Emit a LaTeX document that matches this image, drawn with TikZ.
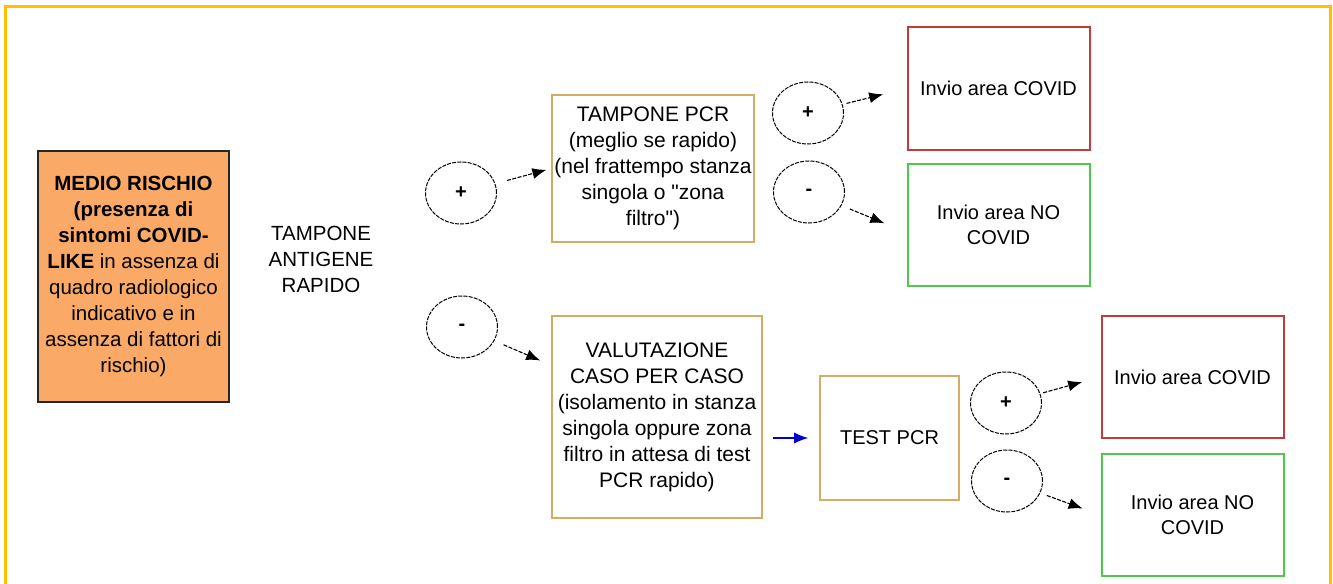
\documentclass[tikz,border=0pt]{standalone}
\usepackage{fontspec}
\setmainfont{Liberation Sans}
\usetikzlibrary{calc, arrows.meta, positioning, shapes.geometric}
\definecolor{framecol}{RGB}{255,192,0}
\definecolor{riskfill}{RGB}{250,170,102}
\definecolor{boxcol}{RGB}{212,172,100}
\definecolor{covcol}{RGB}{190,60,60}
\definecolor{nocovcol}{RGB}{80,200,80}
\definecolor{testarrow}{RGB}{0,0,204}
\tikzstyle{risk}=[draw=black!85, fill=riskfill, line width=1.3bp, align=center,
minimum width=191bp, minimum height=251bp, inner xsep=1bp,
font=\fontsize{20.5bp}{26bp}\selectfont]
\tikzstyle{box}=[draw=boxcol, line width=1.6bp, align=center, inner xsep=1bp,
font=\fontsize{21bp}{26bp}\selectfont]
\tikzstyle{dest}=[line width=2bp, align=center, minimum width=182bp,
minimum height=122bp, font=\fontsize{20bp}{25bp}\selectfont]
\tikzstyle{res}=[draw, ellipse, dash pattern=on 4bp off 1.2bp, line width=1bp, inner sep=0pt,
minimum width=71bp, minimum height=62bp, font=\fontsize{20bp}{24bp}\bfseries]
\tikzstyle{arr}=[->, dash pattern=on 4bp off 1.5bp, line width=1.1bp]

\begin{document}
\begin{tikzpicture}[x=1bp,y=-1bp,>={Latex[length=14bp,width=11bp]}]
  \useasboundingbox (0,0) rectangle (1333,584);
  \draw[framecol, line width=3bp] (5.5,600) -- (5.5,6.5) -- (1330,6.5) -- (1330,600);
  % start
  \node [risk] (risk) at (133.5,276.5) {\textbf{MEDIO RISCHIO}\\\textbf{(presenza di}\\
    \textbf{sintomi COVID-}\\\textbf{LIKE} in assenza di\\quadro radiologico\\
    indicativo e in\\assenza di fattori di\\rischio)};
  \node [align=center, font=\fontsize{20.5bp}{26bp}\selectfont] (ag) at (321,259)
    {TAMPONE\\ANTIGENE\\RAPIDO};
  % antigen positive
  \node [res] (p1) at (461,193) {+};
  \node [box, minimum width=202bp, minimum height=147bp] (pcr) at (653,168.5)
    {TAMPONE PCR\\(meglio se rapido)\\(nel frattempo stanza\\
    singola o \textquotedbl zona\\filtro\textquotedbl)};
  \node [res] (pt) at (808,113) {+};
  \node [res] (mt) at (809,192) {-};
  \node [dest, draw=covcol] (cov1) at (998.5,88.5) {Invio area COVID};
  \node [dest, draw=nocovcol] (ncov1) [below=12bp of cov1] {Invio area NO\\COVID};
  % antigen negative
  \node [res] (m1) at (462,327) {-};
  \node [box, minimum width=210bp, minimum height=202bp] (val) at (657,417)
    {VALUTAZIONE\\CASO PER CASO\\(isolamento in stanza\\singola oppure zona\\
    filtro in attesa di test\\PCR rapido)};
  \node [box, minimum width=139bp, minimum height=124bp, font=\fontsize{20bp}{25bp}\selectfont]
    (test) at (889.5,438) {TEST PCR};
  \node [res] (pb) at (1006,403) {+};
  \node [res] (mb) at (1007,481) {-};
  \node [dest, draw=covcol] (cov2) at (1192.5,377) {Invio area COVID};
  \node [dest, draw=nocovcol] (ncov2) [below=14bp of cov2] {Invio area NO\\COVID};
  % connectors
  \draw[arr, shorten <=12bp, shorten >=5bp] (p1) -- (pcr.west);
  \draw[arr, shorten <=4bp, shorten >=24bp] (pt) -- (cov1.west);
  \draw[arr, shorten <=9bp, shorten >=24bp] (mt) -- ($(ncov1.north west)+(0,70)$);
  \draw[arr, shorten <=10bp, shorten >=12bp] (m1) -- ($(val.north west)+(0,50)$);
  \draw[->, testarrow, line width=1.1bp, shorten <=10bp, shorten >=11bp]
    (val.east |- test.west) -- (test.west);
  \draw[arr, shorten <=3bp, shorten >=19bp] (pb) -- (cov2.west);
  \draw[arr, shorten <=7bp, shorten >=19bp] (mb) -- (ncov2.west);
\end{tikzpicture}
\end{document}
